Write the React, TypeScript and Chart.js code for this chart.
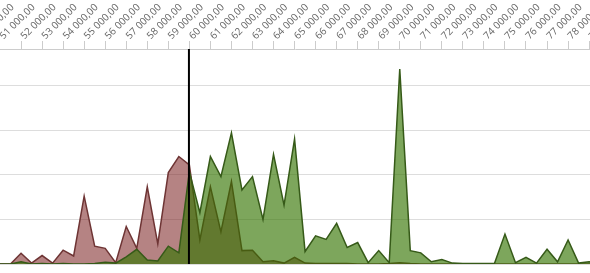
import React, { useEffect, useRef } from 'react';
import { Chart, registerables } from 'chart.js';

Chart.register(...registerables);

const bins = [
  50000, 50500, 51000, 51500, 52000, 52500, 53000, 53500, 54000, 54500,
  55000, 55500, 56000, 56500, 57000, 57500, 58000, 58500, 59000, 59500,
  60000, 60500, 61000, 61500, 62000, 62500, 63000, 63500, 64000, 64500,
  65000, 65500, 66000, 66500, 67000, 67500, 68000, 68500, 69000, 69500,
  70000, 70500, 71000, 71500, 72000, 72500, 73000, 73500, 74000, 74500,
  75000, 75500, 76000, 76500, 77000, 77500, 78000, 78500, 79000, 79500,
];

const redValues = [
  0, 0, 0, 0, 2.4, 0.2, 1.9, 0.2, 3.1, 1.8,
  15.2, 4.0, 3.5, 0.3, 8.4, 3.5, 17.3, 4.5, 20.5, 24.1,
  22.2, 5.4, 17.3, 7.2, 18.5, 3.0, 3.1, 0.5, 0.7, 0.2,
  1.5, 0.2, 0.1, 0.1, 0.1, 0.1, 0, 0, 0, 0.1,
  0.3, 0.1, 0, 0, 0, 0, 0, 0, 0, 0,
  0, 0, 0, 0, 0, 0, 0, 0, 0, 0,
];

const greenValues = [
  0, 0, 0, 0, 0.5, 0, 0.1, 0, 0.1, 0,
  0, 0.1, 0.4, 0.2, 1.6, 3.3, 0.9, 0.7, 4.0, 2.5,
  20.7, 11.5, 24.1, 19.6, 29.4, 16.6, 19.6, 10.0, 24.6, 13.2,
  28.0, 2.8, 6.3, 5.5, 9.1, 3.7, 4.8, 0.3, 3.0, 0.3,
  43.7, 3.0, 2.5, 0.5, 1.0, 0.2, 0.1, 0.1, 0.1, 0.1,
  6.7, 0.3, 1.5, 0.2, 3.3, 0.5, 5.4, 0.2, 0.5, 0.3,
];

const tickValues = [
  50000, 51000, 52000, 53000, 54000, 55000, 56000, 57000, 58000, 59000,
  60000, 61000, 62000, 63000, 64000, 65000, 66000, 67000, 68000, 69000,
  70000, 71000, 72000, 73000, 74000, 75000, 76000, 77000, 78000, 79000, 80000,
];

const gridValues = [0, 10, 20, 30, 40];

const markerX = 59980;
const xMin = 49099;
const xMax = 80943;
const yMax = 48.2;

const fmt = (v: number) =>
  v.toFixed(2).replace('.', ',').replace(/\B(?=(\d{3})+(?!\d))/g, ' ');

export default function App() {
  const ref = useRef<HTMLCanvasElement>(null);

  useEffect(() => {
    const canvas = ref.current;
    if (!canvas) return;
    Chart.defaults.font.family = "'Open Sans', sans-serif";
    const chart = new Chart(canvas, {
      type: 'line',
      data: {
        datasets: [
          {
            label: 'marker',
            data: [
              { x: markerX, y: 0 },
              { x: markerX, y: yMax },
            ],
            borderColor: '#000000',
            borderWidth: 2,
            pointRadius: 0,
            fill: false,
            order: 0,
          },
          {
            label: 'B',
            data: bins.map((x, i) => ({ x, y: greenValues[i] })),
            borderColor: '#365a18',
            backgroundColor: 'rgba(52,115,0,0.64)',
            borderWidth: 1.5,
            pointRadius: 0,
            fill: 'origin',
            tension: 0,
            order: 1,
          },
          {
            label: 'A',
            data: bins.map((x, i) => ({ x, y: redValues[i] })),
            borderColor: '#6e3434',
            backgroundColor: 'rgba(120,30,30,0.55)',
            borderWidth: 1.5,
            pointRadius: 0,
            fill: 'origin',
            tension: 0,
            order: 2,
          },
        ],
      },
      options: {
        responsive: false,
        animation: false,
        layout: { padding: { top: 0, bottom: 9, left: 0, right: 0 } },
        plugins: { legend: { display: false }, tooltip: { enabled: false } },
        scales: {
          x: {
            type: 'linear',
            position: 'top',
            min: xMin,
            max: xMax,
            afterBuildTicks: (s: any) => {
              s.ticks = tickValues.map((v) => ({ value: v }));
            },
            afterFit: (s: any) => {
              s.paddingLeft = 0;
              s.paddingRight = 0;
              s.height = 49;
            },
            ticks: {
              autoSkip: false,
              minRotation: 45,
              maxRotation: 45,
              padding: -1,
              labelOffset: 10,
              color: '#666',
              font: { family: "'Open Sans', sans-serif", size: 10 },
              callback: (v: any) => fmt(Number(v)),
            },
            grid: { drawOnChartArea: false, drawTicks: true, tickLength: 8, color: '#cccccc' },
            border: { display: true, color: '#cccccc' },
          },
          y: {
            min: 0,
            max: yMax,
            afterBuildTicks: (s: any) => {
              s.ticks = gridValues.map((v) => ({ value: v }));
            },
            afterFit: (s: any) => {
              s.width = 0;
            },
            ticks: { display: false },
            grid: { color: '#dddddd', drawTicks: false },
            border: { display: false },
          },
        },
      },
    } as any);
    return () => chart.destroy();
  }, []);

  return (
    <div
      style={{
        position: 'fixed',
        left: 0,
        top: 0,
        width: 590,
        height: 273,
        overflow: 'hidden',
        background: '#ffffff',
      }}
    >
      <canvas
        ref={ref}
        width={670}
        height={273}
        style={{ position: 'absolute', left: -40, top: 0, display: 'block' }}
      />
    </div>
  );
}
